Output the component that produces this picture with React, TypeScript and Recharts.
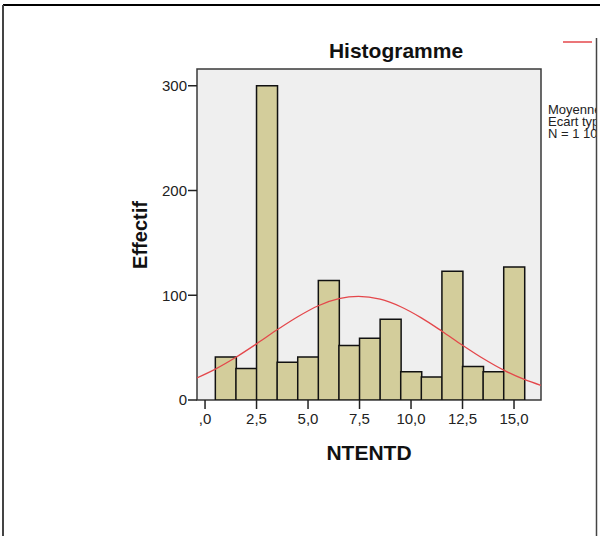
import React from 'react';
import { ComposedChart, Bar, Line, XAxis, YAxis, CartesianGrid, ReferenceArea } from 'recharts';

// histogram bins (centre of each class, count)
const binCenters = [1, 2, 3, 4, 5, 6, 7, 8, 9, 10, 11, 12, 13, 14, 15];
const binCounts = [41, 30, 300, 36, 41, 114, 52, 59, 77, 27, 22, 123, 32, 27, 127];

// normal curve, points
const curveX = [-0.4, 0.5, 1.5, 2.5, 3.5, 4.5, 5.5, 6.5, 7.45, 8.5, 9.5, 10.5, 11.5, 12.5, 13.5, 14.5, 15.5, 16.3];
const curveY = [21, 29.5, 40.8, 53.6, 67, 79.5, 90, 96.7, 98.9, 96.2, 89, 78.4, 65.7, 52.3, 39.6, 28.5, 19.6, 14];

const xTicks = [0, 2.5, 5, 7.5, 10, 12.5, 15];
const yTicks = [0, 100, 200, 300];
const legendLines = ['Moyenne = 7,45', 'Ecart type = 4,468', 'N = 1 108'];

const X_DOMAIN: [number, number] = [-0.39, 16.31];
const Y_DOMAIN: [number, number] = [0, 316];

const FONT = '"Liberation Sans", Arial, sans-serif';

const formatX = (v: number) => {
  const s = v.toFixed(1).replace('.', ',');
  return s.startsWith('0,') ? s.slice(1) : s;
};

const App: React.FC = () => {
  const bins = binCenters.map((x, i) => ({ x, count: binCounts[i] }));
  const curve = curveX.map((x, i) => ({ x, normal: curveY[i] }));

  return (
    <div style={{ position: 'absolute', left: 0, top: 0, width: 600, height: 536, background: '#fff', fontFamily: FONT }}>
      <ComposedChart
        width={600}
        height={536}
        data={bins}
        margin={{ top: 69, right: 59, bottom: 76, left: 137 }}
        barGap={0}
        barCategoryGap={0}
      >
        <CartesianGrid horizontal={false} vertical={false} fill="#efefef" />
        <XAxis
          dataKey="x"
          type="number"
          domain={X_DOMAIN}
          allowDataOverflow
          ticks={xTicks}
          tickFormatter={formatX}
          height={60}
          axisLine={false}
          tickSize={9}
          tickMargin={4}
          tickLine={{ stroke: '#222', strokeWidth: 1.5 }}
          tick={{ fill: '#222', fontSize: 15, fontFamily: FONT }}
        />
        {/* hidden twin axis so the bars get a band of exactly one class width */}
        <XAxis xAxisId="bins" dataKey="x" type="number" domain={X_DOMAIN} allowDataOverflow hide />
        <YAxis
          type="number"
          domain={Y_DOMAIN}
          allowDataOverflow
          ticks={yTicks}
          width={60}
          axisLine={false}
          tickSize={9}
          tickMargin={1}
          tickLine={{ stroke: '#222', strokeWidth: 1.5 }}
          tick={{ fill: '#222', fontSize: 15, fontFamily: FONT }}
        />
        <Bar xAxisId="bins" dataKey="count" fill="#d3cd9b" stroke="#111" strokeWidth={1.5} isAnimationActive={false} />
        <Line
          data={curve}
          dataKey="normal"
          type="monotone"
          stroke="#e4474b"
          strokeWidth={1.3}
          dot={false}
          activeDot={false}
          isAnimationActive={false}
        />
        <ReferenceArea x1={X_DOMAIN[0]} x2={X_DOMAIN[1]} y1={Y_DOMAIN[0]} y2={Y_DOMAIN[1]} fill="none" stroke="#3a3a3a" strokeWidth={1.5} fillOpacity={0} />
      </ComposedChart>

      {/* title, axis titles, cut-off legend and the frame */}
      <svg width={600} height={536} style={{ position: 'absolute', left: 0, top: 0, pointerEvents: 'none' }}>
        <defs>
          <clipPath id="legendClip">
            <rect x={0} y={0} width={596} height={536} />
          </clipPath>
        </defs>
        <text x={396} y={58} textAnchor="middle" fontSize={21} fontWeight="bold" fontFamily={FONT} fill="#111">Histogramme</text>
        <text transform="translate(146.5,235) rotate(-90)" textAnchor="middle" fontSize={20} fontWeight="bold" fontFamily={FONT} fill="#111">Effectif</text>
        <text x={369} y={460} textAnchor="middle" fontSize={21} fontWeight="bold" fontFamily={FONT} fill="#111">NTENTD</text>
        <g clipPath="url(#legendClip)">
          <line x1={563} y1={42} x2={592} y2={42} stroke="#e4474b" strokeWidth={1.5} />
          {legendLines.map((t, i) => (
            <text key={t} x={548} y={113.5 + i * 12.2} fontSize={13} fontFamily={FONT} fill="#222">{t}</text>
          ))}
        </g>
        <line x1={3} y1={5} x2={600} y2={5} stroke="#000" strokeWidth={2} />
        <line x1={3} y1={5} x2={3} y2={536} stroke="#444" strokeWidth={2} />
        <line x1={596.5} y1={38} x2={596.5} y2={536} stroke="#444" strokeWidth={1.5} />
      </svg>
    </div>
  );
};

export default App;
